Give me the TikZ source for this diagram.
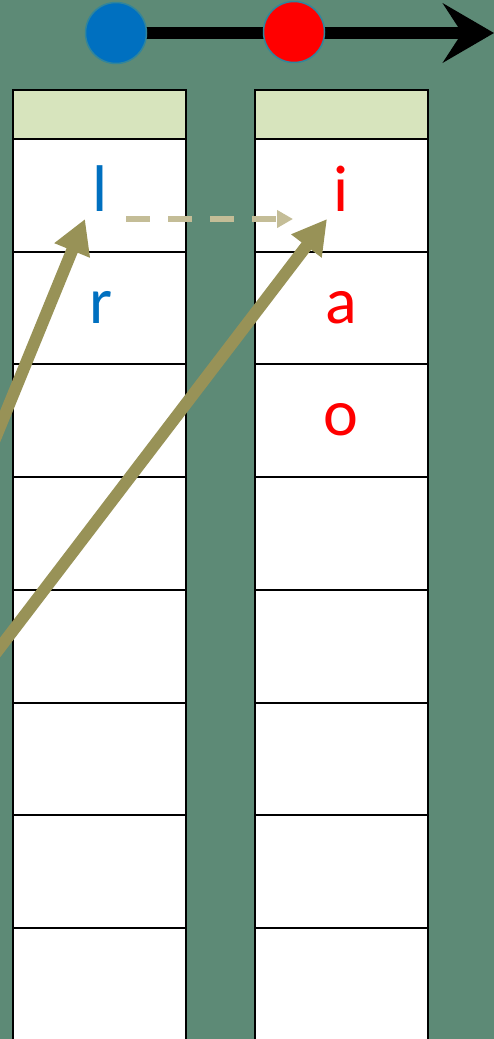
\documentclass[tikz,border=0pt]{standalone}
\usepackage{fontspec}
\setmainfont{Carlito}
\usetikzlibrary{arrows.meta}
\definecolor{bg}{HTML}{5D8A76}
\definecolor{hdrfill}{HTML}{D7E4BD}
\definecolor{olive}{HTML}{989257}
\definecolor{tan}{HTML}{C4BD97}
\definecolor{myblue}{HTML}{0070C0}
\definecolor{myred}{HTML}{FF0000}
\definecolor{ring}{HTML}{31859C}
\tikzset{
  hdrbox/.style={draw=black, line width=2pt, fill=hdrfill, rectangle, anchor=north west,
    minimum width=173pt, minimum height=49pt, inner sep=0pt, outer sep=0pt},
  cellbox/.style={draw=black, line width=2pt, fill=white, rectangle, anchor=north west,
    minimum width=173pt, minimum height=112.7pt, inner sep=0pt, outer sep=0pt},
  letter/.style={font=\fontsize{66}{66}\selectfont, anchor=base, inner sep=0pt},
  bl/.style={letter, text=myblue},
  rd/.style={letter, text=myred},
  olivearrow/.style={draw=olive, line width=12pt, -{Triangle[length=34pt,width=36pt]}},
  tanarrow/.style={draw=tan, line width=6pt, dash pattern=on 24pt off 18pt,
    -{Triangle[length=16pt,width=17pt]}},
  timeline/.style={draw=black, line width=12pt, -{Stealth[length=51pt,width=59pt,inset=19pt]}},
  dot/.style={circle, draw=ring, line width=1.5pt, minimum size=61pt, inner sep=0pt}
}
\begin{document}
\begin{tikzpicture}[x=1pt,y=-1pt]
\useasboundingbox (0,0) rectangle (494,1039);
\clip (0,0) rectangle (494,1039);
\fill[bg] (0,0) rectangle (494,1039);

% timeline
\coordinate (tstart) at (86,33);
\coordinate (tend) at (494,33);
\draw[timeline] (tstart) -- (tend);
\node[dot, fill=myblue] (cblue) at (116,33) {};
\node[dot, fill=myred] (cred) at (294,32) {};

% columns
\node[hdrbox] (hL) at (13,90) {};
\node[hdrbox] (hR) at (255,90) {};
\foreach \i in {1,...,8}{
  \node[cellbox] (L\i) at (13,{139+(\i-1)*112.7}) {};
  \node[cellbox] (R\i) at (255,{139+(\i-1)*112.7}) {};
}

% letters
\node[bl] (tl) at (100,211) {l};
\node[bl] (tr) at (101,323) {r};
\node[rd] (ti) at (341,211) {i};
\node[rd] (ta) at (341,323) {a};
\node[rd] (to) at (341,435) {o};

% dashed arrow
\coordinate (dA) at (126,219);
\coordinate (dB) at (293,219);
\draw[tanarrow] (dA) -- (dB);

% olive arrows
\coordinate (s1) at (-30,500);
\coordinate (p1) at (85,219);
\coordinate (s2) at (-40,700);
\coordinate (p2) at (327,219);
\draw[olivearrow] (s1) -- (p1);
\draw[olivearrow] (s2) -- (p2);
\end{tikzpicture}
\end{document}
